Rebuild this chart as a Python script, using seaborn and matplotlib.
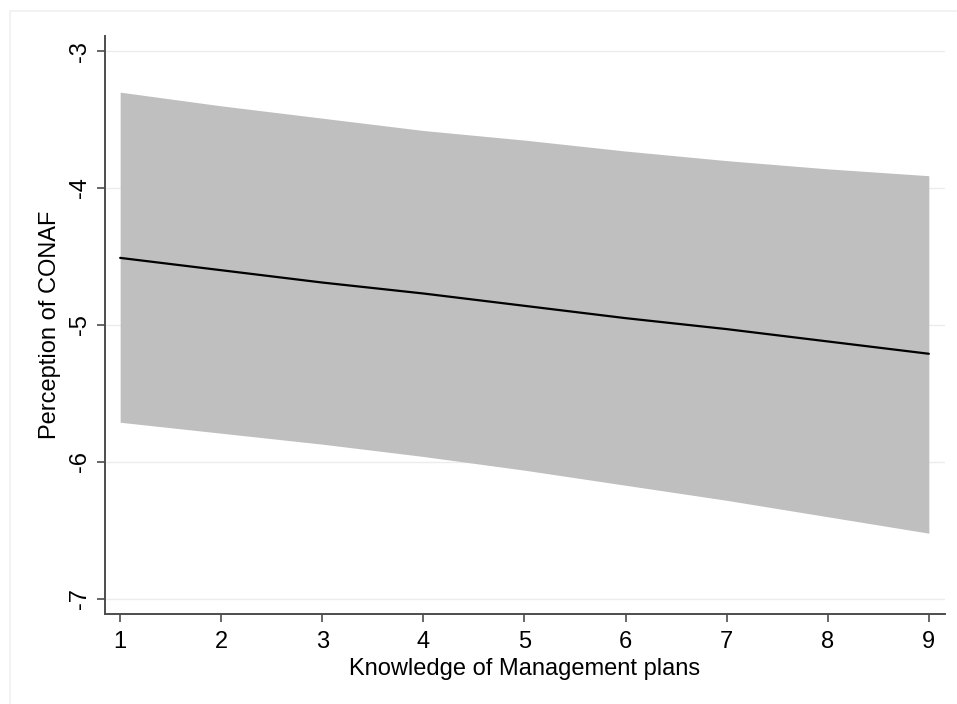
import numpy as np
import pandas as pd
import matplotlib
matplotlib.use("Agg")
import matplotlib.pyplot as plt
import seaborn as sns
from matplotlib.patches import Rectangle

# predictive margins
knowledge = [1, 2, 3, 4, 5, 6, 7, 8, 9]
margin = [-4.51, -4.60, -4.69, -4.77, -4.86, -4.95, -5.03, -5.12, -5.21]
ci_upper = [-3.30, -3.40, -3.49, -3.58, -3.65, -3.73, -3.80, -3.86, -3.91]
ci_lower = [-5.71, -5.79, -5.87, -5.96, -6.06, -6.17, -6.28, -6.40, -6.52]
y_ticks = [-3, -4, -5, -6, -7]

df = pd.DataFrame({"knowledge": knowledge, "margin": margin,
                   "lo": ci_lower, "hi": ci_upper})

sns.set_theme(style="white")
plt.rcParams["font.family"] = ["Liberation Sans", "DejaVu Sans"]
plt.rcParams["text.color"] = "black"
plt.rcParams["axes.labelcolor"] = "black"

fig = plt.figure(figsize=(9.57, 7.04), dpi=100)
ax = fig.add_axes([105 / 957, 90 / 704, 840 / 957, 578 / 704])

# faint outer graph-region frame
fig.patches.append(Rectangle((10 / 957, -0.05), 1.1, (704 - 11) / 704 + 0.05,
                             transform=fig.transFigure, fill=False,
                             edgecolor="#f0f0f0", linewidth=1.2, zorder=0))

ax.fill_between(df["knowledge"], df["lo"], df["hi"], color="#bfbfbf",
                linewidth=0, zorder=2)
sns.lineplot(data=df, x="knowledge", y="margin", color="black",
             linewidth=1.6, ax=ax, zorder=3)

ax.set_xlim(0.85, 9.16)
ax.set_ylim(-7.11, -2.89)
ax.set_xticks(knowledge)
ax.set_yticks(y_ticks)
ax.set_yticklabels([str(t) for t in y_ticks], rotation=90, va="center")
ax.grid(axis="y", color="#ececec", linewidth=1.0, zorder=0)
ax.grid(axis="x", visible=False)

for side in ["top", "right"]:
    ax.spines[side].set_visible(False)
for side in ["left", "bottom"]:
    ax.spines[side].set_color("#4d4d4d")
    ax.spines[side].set_linewidth(1.4)

ax.tick_params(axis="both", which="major", direction="out", length=6,
               width=1.2, color="#4d4d4d", labelsize=17, labelcolor="black",
               left=True, bottom=True, pad=4)
ax.tick_params(axis="x", pad=6)

ax.set_xlabel("Knowledge of Management plans", fontsize=17, labelpad=4)
ax.set_ylabel("Perception of CONAF", fontsize=17, labelpad=6)

fig.savefig("out.png", dpi=100, facecolor="white")
